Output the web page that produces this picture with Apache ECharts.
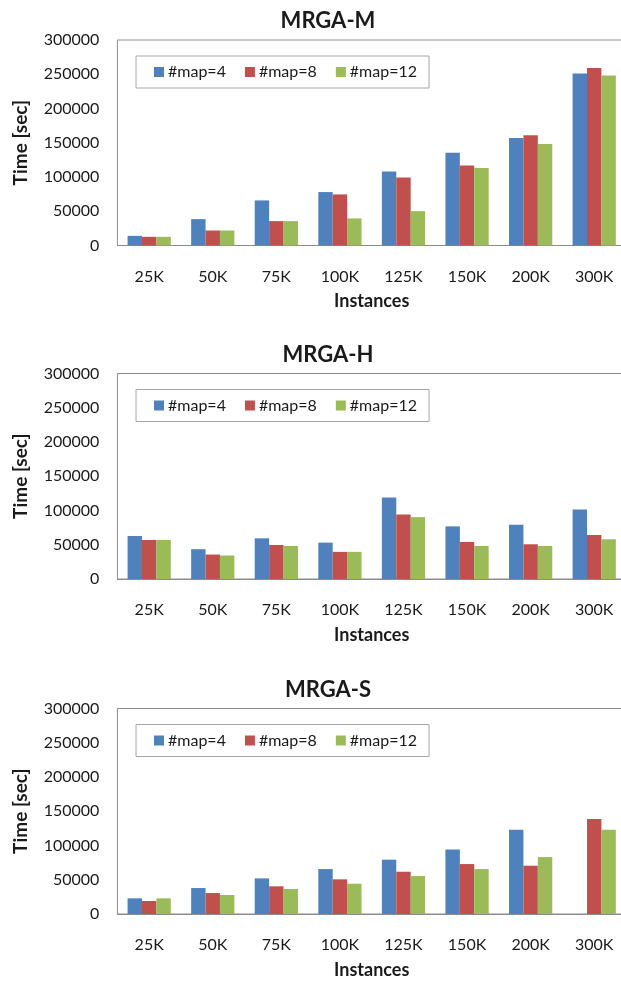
<!DOCTYPE html>
<html>
<head>
<meta charset="utf-8">
<script src="https://cdn.jsdelivr.net/npm/echarts@6/dist/echarts.min.js"></script>
<style>
html,body{margin:0;padding:0;background:#fff;}
#c{width:621px;height:981px;}
</style>
</head>
<body>
<div id="c"></div>
<script>
// ---- data ----
const categories = ['25K','50K','75K','100K','125K','150K','200K','300K'];
const seriesNames = ['#map=4','#map=8','#map=12'];
const panelTitles = ['MRGA-M','MRGA-H','MRGA-S'];
const yMax = 300000;
const yInterval = 50000;

const mrgaM_map4  = [14100, 38500, 65800, 78000, 108200, 135500, 156900, 251000];
const mrgaM_map8  = [12700, 21900, 35600, 74600,  99400, 116900, 160800, 259200];
const mrgaM_map12 = [12700, 21900, 35600, 39500,  50200, 113000, 148100, 248000];

const mrgaH_map4  = [62800, 43500, 59400, 53100, 118800, 76800, 79200, 101400];
const mrgaH_map8  = [57000, 35700, 49700, 39600,  94200, 54100, 50700,  64200];
const mrgaH_map12 = [57000, 34300, 48300, 39600,  90300, 48300, 48300,  58000];

const mrgaS_map4  = [22900, 37900, 52000, 65600, 79300, 94300, 123000, null];
const mrgaS_map8  = [19000, 30600, 40400, 50600, 61700, 72900,  70500, 138600];
const mrgaS_map12 = [22900, 27700, 36500, 44200, 55400, 65600,  83100, 123000];

const panelData = [
  [mrgaM_map4, mrgaM_map8, mrgaM_map12],
  [mrgaH_map4, mrgaH_map8, mrgaH_map12],
  [mrgaS_map4, mrgaS_map8, mrgaS_map12]
];

// ---- styling / layout ----
const colors = ['#4F81BD', '#C0504D', '#9BBB59'];
const FONT = 'Lato, "Open Sans", sans-serif';
const gridTops = [40, 373.5, 708.5];
const gridHeight = 205.5;
const gridLeft = 117.4;
const gridRight = -5;
const textColor = '#1a1a1a';

const grids = [], xAxes = [], yAxes = [], series = [], titles = [], legends = [];
gridTops.forEach((top, i) => {
  grids.push({
    left: gridLeft, right: gridRight, top: top, height: gridHeight,
    show: true, borderColor: '#8c8c8c', borderWidth: 1, backgroundColor: '#fff',
    containLabel: false, outerBoundsMode: 'none'
  });
  xAxes.push({
    type: 'category', gridIndex: i, data: categories,
    axisTick: { show: false },
    axisLine: { show: true, lineStyle: { color: '#8c8c8c', width: 1 } },
    axisLabel: { color: textColor, fontFamily: FONT, fontSize: 16, margin: 23 },
    name: 'Instances', nameLocation: 'middle', nameGap: 47,
    nameTextStyle: { color: textColor, fontFamily: FONT, fontSize: 18, fontWeight: 'bold' }
  });
  yAxes.push({
    type: 'value', gridIndex: i, min: 0, max: yMax, interval: yInterval,
    splitLine: { show: false }, axisTick: { show: false },
    axisLine: { show: false },
    axisLabel: { color: textColor, fontFamily: FONT, fontSize: 16, margin: 18,
      formatter: v => String(v) },
    name: 'Time [sec]', nameLocation: 'middle', nameGap: 87,
    nameTextStyle: { color: textColor, fontFamily: FONT, fontSize: 19, fontWeight: 'bold' }
  });
  titles.push({
    text: panelTitles[i], left: 323, textAlign: 'center', top: top - 35,
    textStyle: { color: textColor, fontFamily: FONT, fontSize: 22, fontWeight: 'bold' }
  });
  legends.push({
    data: seriesNames, left: 136, top: top + 16, orient: 'horizontal',
    itemWidth: 10, itemHeight: 10, itemGap: 19, icon: 'rect',
    borderColor: '#a6a6a6', borderWidth: 1, padding: [8, 12, 8, 18],
    backgroundColor: '#fff',
    textStyle: { color: textColor, fontFamily: FONT, fontSize: 16, padding: [0, 0, 0, -1] }
  });
  seriesNames.forEach((nm, s) => {
    series.push({
      type: 'bar', name: nm, xAxisIndex: i, yAxisIndex: i,
      data: panelData[i][s], barGap: '0%', barCategoryGap: '32%',
      itemStyle: { color: colors[s] }, animation: false
    });
  });
});

const chart = echarts.init(document.getElementById('c'), null, { renderer: 'canvas' });
chart.setOption({
  backgroundColor: '#fff',
  animation: false,
  color: colors,
  title: titles,
  legend: legends,
  grid: grids,
  xAxis: xAxes,
  yAxis: yAxes,
  series: series
});
</script>
</body>
</html>
